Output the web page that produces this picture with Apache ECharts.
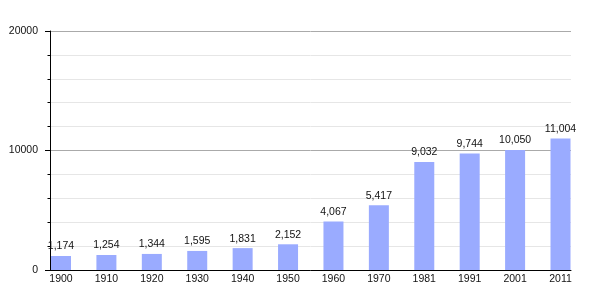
<!DOCTYPE html>
<html>
<head>
<meta charset="utf-8">
<script src="https://cdn.jsdelivr.net/npm/echarts@6/dist/echarts.min.js"></script>
<style>html,body{margin:0;padding:0;background:#fff}#c{width:600px;height:300px}</style>
</head>
<body>
<div id="c"></div>
<script>
var years = ['1900','1910','1920','1930','1940','1950','1960','1970','1981','1991','2001','2011'];
var population = [1174,1254,1344,1595,1831,2152,4067,5417,9032,9744,10050,11004];
var yTicks = [0,10000,20000];

var positions = years.map(function(_, i){ return i; });
var chart = echarts.init(document.getElementById('c'), null, {renderer:'canvas'});
var font = 'Liberation Sans, Arial, sans-serif';
chart.setOption({
  animation:false,
  grid:{left:50,right:29,top:31,bottom:30},
  xAxis:{
    type:'value', min:-0.2422, max:11.231,
    splitLine:{show:false},
    axisLine:{show:true,onZero:false,lineStyle:{color:'#000',width:1}},
    axisTick:{show:false},
    axisLabel:{customValues:positions, margin:4, fontSize:10.5, fontFamily:font, color:'#111',
      formatter:function(v){ return years[Math.round(v)]; }}
  },
  yAxis:{
    type:'value', min:yTicks[0], max:yTicks[yTicks.length-1], interval:yTicks[1]-yTicks[0],
    axisLine:{show:true,onZero:false,lineStyle:{color:'#000',width:1}},
    axisTick:{show:true,length:5,lineStyle:{color:'#000'}},
    minorTick:{show:true,splitNumber:5,length:2.5,lineStyle:{color:'#000'}},
    splitLine:{show:true,lineStyle:{color:'#aaaaaa',width:1}},
    minorSplitLine:{show:true,lineStyle:{color:'#e6e6e6',width:1}},
    axisLabel:{margin:12,fontSize:10.5,fontFamily:font,color:'#111',
      formatter:function(v){ return String(v); }}
  },
  series:[{
    type:'bar',
    barWidth:20,
    data:population.map(function(v,i){ return [positions[i], v]; }),
    itemStyle:{color:'#9aabff'},
    label:{show:true,position:'top',distance:4,fontSize:10.5,fontFamily:font,color:'#111',
      formatter:function(p){ return p.value[1].toLocaleString('en-US'); }}
  }]
});
</script>
</body>
</html>
